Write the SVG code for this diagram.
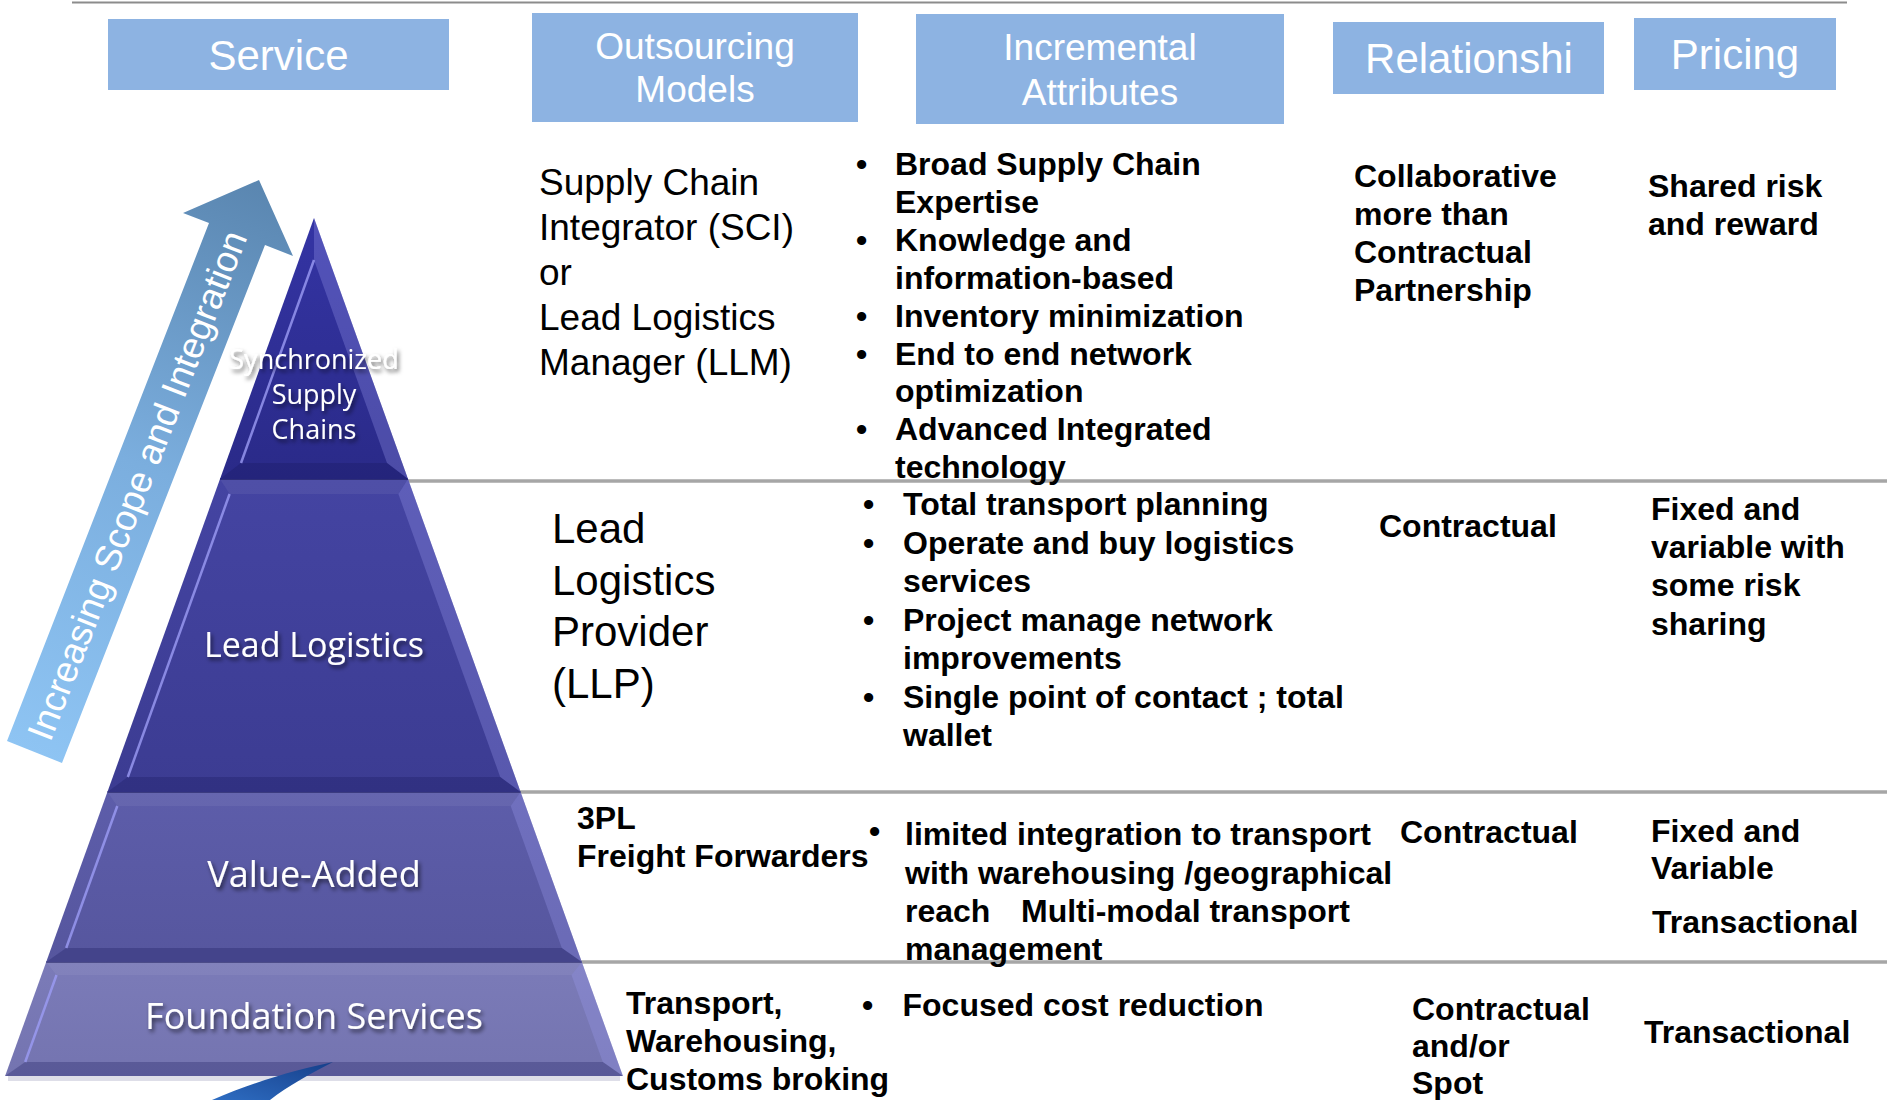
<svg xmlns="http://www.w3.org/2000/svg" width="1887" height="1100" viewBox="0 0 1887 1100">
<defs>
<style>
.hdr{fill:#8DB3E2}
.ht{font-family:"Liberation Sans",Arial,sans-serif;fill:#ffffff;text-anchor:middle}
.reg{font-family:"Liberation Sans",Arial,sans-serif;fill:#000000;font-size:37px}
.big{font-family:"Liberation Sans",Arial,sans-serif;fill:#000000;font-size:42px}
.b{font-family:"Liberation Sans",Arial,sans-serif;font-weight:bold;fill:#000000;font-size:32px}
.pl{font-family:"Open Sans","Noto Sans",sans-serif;fill:#ffffff;text-anchor:middle;filter:url(#sh)}
.sep{stroke:#A6A6A6;stroke-width:3.5;fill:none}
.rs{fill:#9A9AF0;opacity:0.3}
.bs{fill:#15155A;opacity:0.28}
.ts{fill:#ffffff;opacity:0.06}
.hl{stroke:#9C9CF5;stroke-width:2.5;fill:none;opacity:0.8}
</style>
<filter id="sh" x="-20%" y="-40%" width="140%" height="180%">
<feDropShadow dx="2" dy="3" stdDeviation="2" flood-color="#000000" flood-opacity="0.6"/>
</filter>
<linearGradient id="arrowG" gradientUnits="userSpaceOnUse" x1="30" y1="752" x2="262" y2="182">
<stop offset="0" stop-color="#8EC4F3"/>
<stop offset="0.5" stop-color="#7BAEDE"/>
<stop offset="1" stop-color="#5A86B0"/>
</linearGradient>
<linearGradient id="g1" x1="0" y1="0" x2="0" y2="1">
<stop offset="0" stop-color="#3434A4"/>
<stop offset="1" stop-color="#2A2A88"/>
</linearGradient>
<linearGradient id="g2" x1="0" y1="0" x2="0" y2="1">
<stop offset="0" stop-color="#4444A2"/>
<stop offset="1" stop-color="#3C3C92"/>
</linearGradient>
<linearGradient id="g3" x1="0" y1="0" x2="0" y2="1">
<stop offset="0" stop-color="#5D5DAA"/>
<stop offset="1" stop-color="#56569E"/>
</linearGradient>
<linearGradient id="g4" x1="0" y1="0" x2="0" y2="1">
<stop offset="0" stop-color="#7B7BB8"/>
<stop offset="1" stop-color="#7474B0"/>
</linearGradient>
<linearGradient id="swG" x1="0" y1="1" x2="1" y2="0">
<stop offset="0" stop-color="#2E6DC2"/>
<stop offset="1" stop-color="#163F8A"/>
</linearGradient>
</defs>
<rect width="1887" height="1100" fill="#ffffff"/>

<line x1="72" y1="2.5" x2="1847" y2="2.5" stroke="#8C8C8C" stroke-width="2"/>

<g id="hdr-service">
<rect class="hdr" x="108" y="19" width="341" height="71"/>
<text class="ht" x="278.5" y="70" font-size="42">Service</text>
</g>
<g id="hdr-outsourcing">
<rect class="hdr" x="532" y="13" width="326" height="109"/>
<text class="ht" x="695" y="59" font-size="37">Outsourcing</text>
<text class="ht" x="695" y="102" font-size="37">Models</text>
</g>
<g id="hdr-incremental">
<rect class="hdr" x="916" y="14" width="368" height="110"/>
<text class="ht" x="1100" y="60" font-size="37">Incremental</text>
<text class="ht" x="1100" y="105" font-size="37">Attributes</text>
</g>
<g id="hdr-relationship">
<rect class="hdr" x="1333" y="22" width="271" height="72"/>
<text class="ht" x="1469" y="73" font-size="42">Relationshi</text>
</g>
<g id="hdr-pricing">
<rect class="hdr" x="1634" y="18" width="202" height="72"/>
<text class="ht" x="1735" y="69" font-size="42">Pricing</text>
</g>

<g id="separators">
<line class="sep" x1="405" y1="481" x2="1887" y2="481"/>
<line class="sep" x1="519" y1="792" x2="1887" y2="792"/>
<line class="sep" x1="581" y1="962" x2="1887" y2="962"/>
</g>

<g id="arrow-scope">
<polygon points="7,741 209,223 183,213 259,180 293,256 265,245 62,763" fill="url(#arrowG)"/>
<text transform="translate(149,490) rotate(-68.7)" font-family="Liberation Sans, Arial, sans-serif" font-size="37" fill="#ffffff" text-anchor="middle">Increasing Scope and Integration</text>
</g>

<g id="pyr-shadow">
<rect x="8" y="1076" width="612" height="5" fill="#C8C8D8" opacity="0.6"/>
</g>

<g id="pyr-foundation">
<polygon points="46.2,962 581.8,962 622.9,1076 5.1,1076" fill="url(#g4)"/>
<polygon class="ts" points="46.2,962 581.8,962 571.5,975 56.5,975"/>
<polygon class="rs" points="581.8,962 622.9,1076 602.8,1062 571.5,975"/>
<polygon class="bs" points="5.1,1076 622.9,1076 602.8,1062 25.2,1062"/>
<line class="hl" x1="56.5" y1="975" x2="25.2" y2="1062"/>
<line x1="46.2" y1="962" x2="581.8" y2="962" stroke="#3A3A78" stroke-width="1.5"/>
<text class="pl" x="314" y="1029" font-size="36">Foundation Services</text>
</g>

<g id="pyr-value">
<polygon points="107.4,792 520.6,792 581.8,962 46.2,962" fill="url(#g3)"/>
<polygon class="ts" points="107.4,792 520.6,792 510.7,806 117.3,806"/>
<polygon class="rs" points="520.6,792 581.8,962 561.8,948 510.7,806"/>
<polygon class="bs" points="46.2,962 581.8,962 561.8,948 66.2,948"/>
<line class="hl" x1="117.3" y1="806" x2="66.2" y2="948"/>
<line x1="107.4" y1="792" x2="520.6" y2="792" stroke="#2E2E70" stroke-width="1.5"/>
<text class="pl" x="314" y="887" font-size="36">Value-Added</text>
</g>

<g id="pyr-lead">
<polygon points="220,479 408,479 520.6,792 107.4,792" fill="url(#g2)"/>
<polygon class="ts" points="220,479 408,479 398.4,494 229.6,494"/>
<polygon class="rs" points="408,479 520.6,792 500.2,777 398.4,494"/>
<polygon class="bs" points="107.4,792 520.6,792 500.2,777 127.8,777"/>
<line class="hl" x1="229.6" y1="494" x2="127.8" y2="777"/>
<line x1="220" y1="479" x2="408" y2="479" stroke="#22226A" stroke-width="1.5"/>
<text class="pl" x="314" y="657" font-size="34">Lead Logistics</text>
</g>

<g id="pyr-sync">
<polygon points="314,218 408,479 220,479" fill="url(#g1)"/>
<polygon class="rs" points="314,218 408,479 387,463 314,260"/>
<polygon class="bs" points="220,479 408,479 387,463 241,463"/>
<line class="hl" x1="314" y1="260" x2="241" y2="463"/>
<text class="pl" x="314" y="369" font-size="27">Synchronized</text>
<text class="pl" x="314" y="404" font-size="27">Supply</text>
<text class="pl" x="314" y="439" font-size="27">Chains</text>
</g>

<g id="swoosh">
<path d="M 212,1100 C 258,1080 300,1069 333,1062 C 310,1074 288,1086 270,1100 Z" fill="url(#swG)"/>
</g>

<g id="row1">
<g id="r1-model">
<text class="reg" x="539" y="195">Supply Chain</text>
<text class="reg" x="539" y="240">Integrator (SCI)</text>
<text class="reg" x="539" y="285">or</text>
<text class="reg" x="539" y="330">Lead Logistics</text>
<text class="reg" x="539" y="375">Manager (LLM)</text>
</g>
<g id="r1-attr">
<text class="b" x="856" y="175">•</text><text class="b" x="895" y="175">Broad Supply Chain</text>
<text class="b" x="895" y="212.9">Expertise</text>
<text class="b" x="856" y="250.8">•</text><text class="b" x="895" y="250.8">Knowledge and</text>
<text class="b" x="895" y="288.7">information-based</text>
<text class="b" x="856" y="326.6">•</text><text class="b" x="895" y="326.6">Inventory minimization</text>
<text class="b" x="856" y="364.5">•</text><text class="b" x="895" y="364.5">End to end network</text>
<text class="b" x="895" y="402.4">optimization</text>
<text class="b" x="856" y="440.3">•</text><text class="b" x="895" y="440.3">Advanced Integrated</text>
<text class="b" x="895" y="478.2">technology</text>
</g>
<g id="r1-rel">
<text class="b" x="1354" y="187">Collaborative</text>
<text class="b" x="1354" y="225">more than</text>
<text class="b" x="1354" y="263">Contractual</text>
<text class="b" x="1354" y="301">Partnership</text>
</g>
<g id="r1-price">
<text class="b" x="1648" y="197">Shared risk</text>
<text class="b" x="1648" y="235">and reward</text>
</g>
</g>

<g id="row2">
<g id="r2-model">
<text class="big" x="552" y="543">Lead</text>
<text class="big" x="552" y="594.5">Logistics</text>
<text class="big" x="552" y="646">Provider</text>
<text class="big" x="552" y="697.5">(LLP)</text>
</g>
<g id="r2-attr">
<text class="b" x="863" y="515">•</text><text class="b" x="903" y="515">Total transport planning</text>
<text class="b" x="863" y="553.5">•</text><text class="b" x="903" y="553.5">Operate and buy logistics</text>
<text class="b" x="903" y="592">services</text>
<text class="b" x="863" y="630.5">•</text><text class="b" x="903" y="630.5">Project manage network</text>
<text class="b" x="903" y="669">improvements</text>
<text class="b" x="863" y="707.5">•</text><text class="b" x="903" y="707.5">Single point of contact ; total</text>
<text class="b" x="903" y="746">wallet</text>
</g>
<g id="r2-rel">
<text class="b" x="1379" y="537">Contractual</text>
</g>
<g id="r2-price">
<text class="b" x="1651" y="520">Fixed and</text>
<text class="b" x="1651" y="558.2">variable with</text>
<text class="b" x="1651" y="596.4">some risk</text>
<text class="b" x="1651" y="634.6">sharing</text>
</g>
</g>

<g id="row3">
<g id="r3-model">
<text class="b" x="577" y="829">3PL</text>
<text class="b" x="577" y="867">Freight Forwarders</text>
</g>
<g id="r3-attr">
<text class="b" x="869" y="842">•</text><text class="b" x="905" y="845">limited integration to transport</text>
<text class="b" x="905" y="883.5">with warehousing /geographical</text>
<text class="b" x="905" y="922">reach</text><text class="b" x="1021" y="922">Multi-modal transport</text>
<text class="b" x="905" y="960">management</text>
</g>
<g id="r3-rel">
<text class="b" x="1400" y="843">Contractual</text>
</g>
<g id="r3-price">
<text class="b" x="1651" y="842">Fixed and</text>
<text class="b" x="1651" y="879">Variable</text>
<text class="b" x="1652" y="933">Transactional</text>
</g>
</g>

<g id="row4">
<g id="r4-model">
<text class="b" x="626" y="1014">Transport,</text>
<text class="b" x="626" y="1052">Warehousing,</text>
<text class="b" x="626" y="1090">Customs broking</text>
</g>
<g id="r4-attr">
<text class="b" x="862" y="1016">•</text><text class="b" x="902.5" y="1016">Focused cost reduction</text>
</g>
<g id="r4-rel">
<text class="b" x="1412" y="1020">Contractual</text>
<text class="b" x="1412" y="1057">and/or</text>
<text class="b" x="1412" y="1094">Spot</text>
</g>
<g id="r4-price">
<text class="b" x="1644" y="1043">Transactional</text>
</g>
</g>
</svg>
